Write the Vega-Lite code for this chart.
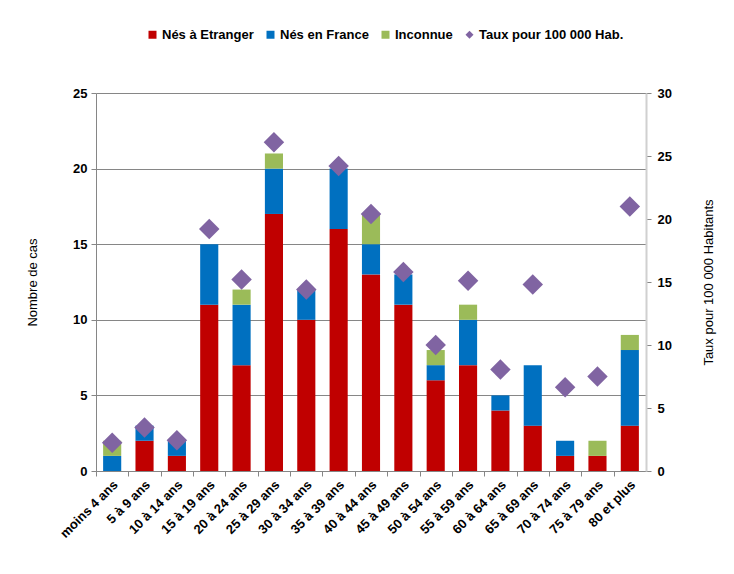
{
  "$schema": "https://vega.github.io/schema/vega-lite/v6.json",
  "autosize": {"type": "none"},
  "width": 550,
  "height": 378,
  "padding": {"left": 96, "top": 93, "right": 88, "bottom": 103},
  "background": "white",
  "config": {
    "view": {"stroke": null},
    "font": "Liberation Sans, Arial, sans-serif"
  },
  "datasets": {
    "cas": [
      {"age": "moins 4 ans", "serie": "Nés en France", "n": 1, "ordre": 2},
      {"age": "moins 4 ans", "serie": "Inconnue", "n": 1, "ordre": 3},
      {"age": "5 à 9 ans", "serie": "Nés à Etranger", "n": 2, "ordre": 1},
      {"age": "5 à 9 ans", "serie": "Nés en France", "n": 1, "ordre": 2},
      {"age": "10 à 14 ans", "serie": "Nés à Etranger", "n": 1, "ordre": 1},
      {"age": "10 à 14 ans", "serie": "Nés en France", "n": 1, "ordre": 2},
      {"age": "15 à 19 ans", "serie": "Nés à Etranger", "n": 11, "ordre": 1},
      {"age": "15 à 19 ans", "serie": "Nés en France", "n": 4, "ordre": 2},
      {"age": "20 à 24 ans", "serie": "Nés à Etranger", "n": 7, "ordre": 1},
      {"age": "20 à 24 ans", "serie": "Nés en France", "n": 4, "ordre": 2},
      {"age": "20 à 24 ans", "serie": "Inconnue", "n": 1, "ordre": 3},
      {"age": "25 à 29 ans", "serie": "Nés à Etranger", "n": 17, "ordre": 1},
      {"age": "25 à 29 ans", "serie": "Nés en France", "n": 3, "ordre": 2},
      {"age": "25 à 29 ans", "serie": "Inconnue", "n": 1, "ordre": 3},
      {"age": "30 à 34 ans", "serie": "Nés à Etranger", "n": 10, "ordre": 1},
      {"age": "30 à 34 ans", "serie": "Nés en France", "n": 2, "ordre": 2},
      {"age": "35 à 39 ans", "serie": "Nés à Etranger", "n": 16, "ordre": 1},
      {"age": "35 à 39 ans", "serie": "Nés en France", "n": 4, "ordre": 2},
      {"age": "40 à 44 ans", "serie": "Nés à Etranger", "n": 13, "ordre": 1},
      {"age": "40 à 44 ans", "serie": "Nés en France", "n": 2, "ordre": 2},
      {"age": "40 à 44 ans", "serie": "Inconnue", "n": 2, "ordre": 3},
      {"age": "45 à 49 ans", "serie": "Nés à Etranger", "n": 11, "ordre": 1},
      {"age": "45 à 49 ans", "serie": "Nés en France", "n": 2, "ordre": 2},
      {"age": "50 à 54 ans", "serie": "Nés à Etranger", "n": 6, "ordre": 1},
      {"age": "50 à 54 ans", "serie": "Nés en France", "n": 1, "ordre": 2},
      {"age": "50 à 54 ans", "serie": "Inconnue", "n": 1, "ordre": 3},
      {"age": "55 à 59 ans", "serie": "Nés à Etranger", "n": 7, "ordre": 1},
      {"age": "55 à 59 ans", "serie": "Nés en France", "n": 3, "ordre": 2},
      {"age": "55 à 59 ans", "serie": "Inconnue", "n": 1, "ordre": 3},
      {"age": "60 à 64 ans", "serie": "Nés à Etranger", "n": 4, "ordre": 1},
      {"age": "60 à 64 ans", "serie": "Nés en France", "n": 1, "ordre": 2},
      {"age": "65 à 69 ans", "serie": "Nés à Etranger", "n": 3, "ordre": 1},
      {"age": "65 à 69 ans", "serie": "Nés en France", "n": 4, "ordre": 2},
      {"age": "70 à 74 ans", "serie": "Nés à Etranger", "n": 1, "ordre": 1},
      {"age": "70 à 74 ans", "serie": "Nés en France", "n": 1, "ordre": 2},
      {"age": "75 à 79 ans", "serie": "Nés à Etranger", "n": 1, "ordre": 1},
      {"age": "75 à 79 ans", "serie": "Inconnue", "n": 1, "ordre": 3},
      {"age": "80 et plus", "serie": "Nés à Etranger", "n": 3, "ordre": 1},
      {"age": "80 et plus", "serie": "Nés en France", "n": 5, "ordre": 2},
      {"age": "80 et plus", "serie": "Inconnue", "n": 1, "ordre": 3}
    ],
    "taux": [
      {"age": "moins 4 ans", "taux": 2.25},
      {"age": "5 à 9 ans", "taux": 3.45},
      {"age": "10 à 14 ans", "taux": 2.45},
      {"age": "15 à 19 ans", "taux": 19.2},
      {"age": "20 à 24 ans", "taux": 15.2},
      {"age": "25 à 29 ans", "taux": 26.1},
      {"age": "30 à 34 ans", "taux": 14.4},
      {"age": "35 à 39 ans", "taux": 24.2},
      {"age": "40 à 44 ans", "taux": 20.4},
      {"age": "45 à 49 ans", "taux": 15.8},
      {"age": "50 à 54 ans", "taux": 10.0},
      {"age": "55 à 59 ans", "taux": 15.1},
      {"age": "60 à 64 ans", "taux": 8.05},
      {"age": "65 à 69 ans", "taux": 14.8},
      {"age": "70 à 74 ans", "taux": 6.65},
      {"age": "75 à 79 ans", "taux": 7.5},
      {"age": "80 et plus", "taux": 21.0}
    ]
  },
  "layer": [
    {
      "data": {"name": "cas"},
      "mark": {"type": "bar"},
      "encoding": {
        "x": {
          "field": "age",
          "type": "nominal",
          "sort": ["moins 4 ans", "5 à 9 ans", "10 à 14 ans", "15 à 19 ans", "20 à 24 ans", "25 à 29 ans", "30 à 34 ans", "35 à 39 ans", "40 à 44 ans", "45 à 49 ans", "50 à 54 ans", "55 à 59 ans", "60 à 64 ans", "65 à 69 ans", "70 à 74 ans", "75 à 79 ans", "80 et plus"],
          "scale": {"paddingInner": 0.44, "paddingOuter": 0.22},
          "axis": {
            "title": null,
            "labelAngle": -45,
            "labelFont": "Liberation Sans, Arial, sans-serif",
            "labelFontSize": 13,
            "labelFontWeight": "bold",
            "labelColor": "black",
            "domainColor": "#868686",
            "tickColor": "#868686",
            "tickSize": 5,
            "tickOffset": -16.18,
            "labelOffset": 15,
            "labelPadding": 2
          }
        },
        "y": {
          "field": "n",
          "type": "quantitative",
          "stack": "zero",
          "scale": {"domain": [0, 25]},
          "axis": {
            "title": "Nombre de cas",
            "values": [0, 5, 10, 15, 20, 25],
            "grid": true,
            "gridColor": "#868686",
            "domainColor": "#868686",
            "tickColor": "#868686",
            "tickSize": 5,
            "labelFont": "Liberation Sans, Arial, sans-serif",
            "labelFontSize": 13,
            "labelFontWeight": "bold",
            "labelColor": "black",
            "labelPadding": 4,
            "titleFont": "Liberation Sans, Arial, sans-serif",
            "titleFontSize": 13,
            "titleFontWeight": "normal",
            "titleColor": "black",
            "titlePadding": 33
          }
        },
        "color": {
          "field": "serie",
          "type": "nominal",
          "scale": {
            "domain": ["Nés à Etranger", "Nés en France", "Inconnue", "Taux pour 100 000 Hab."],
            "range": ["#C00000", "#0070C0", "#9BBB59", "#8064A2"]
          },
          "legend": {
            "orient": "none",
            "legendX": 50,
            "legendY": -65,
            "direction": "horizontal",
            "title": null,
            "labelFont": "Liberation Sans, Arial, sans-serif",
            "labelFontSize": 13,
            "labelFontWeight": "bold",
            "labelColor": "black",
            "symbolSize": 64,
            "symbolStrokeWidth": 0,
            "labelOffset": 3,
            "columnPadding": 10,
            "encode": {
              "symbols": {
                "update": {
                  "shape": {"signal": "datum.value === 'Taux pour 100 000 Hab.' ? 'diamond' : 'square'"}
                }
              }
            }
          }
        },
        "order": {"field": "ordre", "type": "quantitative"}
      }
    },
    {
      "data": {"name": "taux"},
      "mark": {"type": "point", "shape": "diamond", "filled": true, "size": 420, "opacity": 1},
      "encoding": {
        "x": {
          "field": "age",
          "type": "nominal",
          "sort": ["moins 4 ans", "5 à 9 ans", "10 à 14 ans", "15 à 19 ans", "20 à 24 ans", "25 à 29 ans", "30 à 34 ans", "35 à 39 ans", "40 à 44 ans", "45 à 49 ans", "50 à 54 ans", "55 à 59 ans", "60 à 64 ans", "65 à 69 ans", "70 à 74 ans", "75 à 79 ans", "80 et plus"]
        },
        "y": {
          "field": "taux",
          "type": "quantitative",
          "scale": {"domain": [0, 30]},
          "axis": {
            "orient": "right",
            "title": "Taux pour 100 000 Habitants",
            "titleAngle": 270,
            "values": [0, 5, 10, 15, 20, 25, 30],
            "grid": false,
            "domainColor": "#D0D0D0",
            "domainWidth": 2,
            "tickColor": "#868686",
            "tickSize": 5,
            "labelFont": "Liberation Sans, Arial, sans-serif",
            "labelFontSize": 13,
            "labelFontWeight": "bold",
            "labelColor": "black",
            "labelPadding": 6,
            "titleFont": "Liberation Sans, Arial, sans-serif",
            "titleFontSize": 13,
            "titleFontWeight": "normal",
            "titleColor": "black",
            "titlePadding": 44
          }
        },
        "color": {"datum": "Taux pour 100 000 Hab."}
      }
    }
  ],
  "resolve": {"scale": {"y": "independent"}}
}
